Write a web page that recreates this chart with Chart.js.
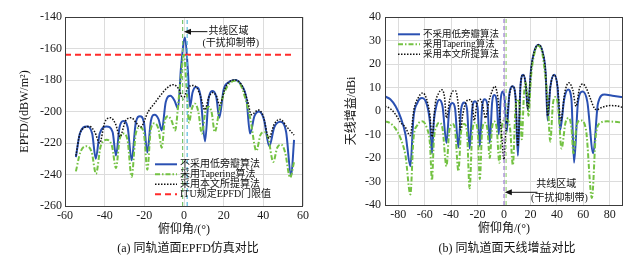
<!DOCTYPE html>
<html><head><meta charset="utf-8">
<script src="https://cdn.jsdelivr.net/npm/chart.js@4.4.1/dist/chart.umd.min.js"></script>
<style>
html,body{margin:0;padding:0;background:#fff;}
#wrap{position:relative;width:642px;height:261px;overflow:hidden;background:#fff;}
canvas{position:absolute;top:0;}
.cap{position:absolute;top:241px;line-height:14px;font-size:12px;font-family:"Liberation Serif","Noto Sans CJK SC",serif;color:#111;white-space:nowrap;transform:translateX(-50%);}
</style></head><body>
<div id="wrap">
<canvas id="c1" width="320" height="261" style="left:0;width:320px;height:261px"></canvas>
<canvas id="c2" width="322" height="261" style="left:320px;width:322px;height:261px"></canvas>
<div class="cap" style="left:188px">(a) 同轨道面EPFD仿真对比</div>
<div class="cap" style="left:507px">(b) 同轨道面天线增益对比</div>
</div>
<script>
const FONT = '"Liberation Serif", "Noto Sans CJK SC", serif';

const seriesNames = ['不采用低旁瓣算法', '采用Tapering算法', '采用本文所提算法', 'ITU规定EPFD门限值'];
const annoLines = ['共线区域', '(干扰抑制带)'];

// ---------- (a) EPFD ----------
const epfdXTicks = [-60, -40, -20, 0, 20, 40, 60];
const epfdYTicks = [-260, -240, -220, -200, -180, -160, -140];

const epfdBlueX = [-54.5,-52.5,-49,-46.3,-44.5,-42.5,-39,-36,-34.3,-32.5,-30.6,-28.4,-26.4,-24.3,-22.2,-20.2,-18.5,-16.7,-14.8,-12.8,-11.2,-9.2,-6.8,-4.8,-3,-1.5,0.5,2,3,4.3,6,8.3,10.6,12.5,14.5,16.3,17.8,20,22.5,25.7,28.8,31.5,33.3,35.5,37.8,40.3,43,45.5,48.5,51.5,54,55.5];
const epfdBlueY = [-229,-214,-209.5,-214,-230,-214,-209.5,-213,-228,-210,-206,-210,-231,-207,-203,-207,-226,-206,-202,-205,-212,-194,-190,-193,-198,-172,-153,-175,-197,-188,-184.5,-190,-219,-191,-187,-191,-204,-186,-181.5,-180,-183,-192,-214,-203,-200,-205,-222,-210,-206.5,-213,-241,-218];

const epfdGreenX = [-54.5,-52.3,-49,-46.5,-44.4,-42,-39,-36.3,-34.3,-32.5,-30.6,-28.5,-26.4,-24.3,-22.2,-20.2,-18.5,-16.7,-14.8,-12.9,-11.2,-9.7,-8,-6.2,-4.5,-2.5,0,1.3,2.5,4,5.5,7.2,9,10.8,12.5,14,15.5,18,21,25.7,28.5,31,33.5,36.5,38.5,40.5,42.5,45,47,49,51,53.5,55.5];
const epfdGreenY = [-238,-226,-222,-226,-239.5,-222,-218,-222,-236,-218,-214,-218,-241.5,-214,-210,-214,-237,-211,-207.5,-211,-223,-206,-203,-206,-212,-190,-164,-185,-207,-198,-195,-200,-214,-200,-197,-201,-213,-198,-186,-180.5,-183,-192,-205,-225,-215,-213,-217,-232,-223,-221,-226,-242,-232];

const epfdBlackX = [-54.5,-52.5,-50.5,-47.5,-45,-42.5,-40,-37,-34.5,-32.3,-29.5,-26.5,-24.2,-22,-18,-15,-12,-8.5,-5.5,-2.5,-0.5,2,4.5,6.5,8.5,10.5,12.5,14.5,16.3,18,20.5,22.5,25.7,29,32,34,37.5,40,42.8,45.5,48.5,52,55.5];
const epfdBlackY = [-228,-214,-210.5,-209.5,-213,-220,-207,-204,-208,-216,-206,-204,-207,-210,-200,-195,-190,-185,-183,-186,-192,-185,-183.5,-185,-191,-199,-191,-188,-190,-196,-186,-181.5,-180,-183,-193,-202,-199,-203,-217,-208,-205,-210,-215];

const ituLimitX = [-60, 55];
const ituLimitY = [-164, -164];
const epfdBandX = [-0.7, 1.6];

// ---------- (b) Gain ----------
const gainXTicks = [-80, -60, -40, -20, 0, 20, 40, 60, 80];
const gainYTicks = [-40, -30, -20, -10, 0, 10, 20, 30, 40];

const gainBlueX = [-90,-86,-82,-78,-74.5,-70.8,-68.5,-65.5,-62,-58.5,-56,-54.5,-53,-51,-49,-46.5,-43.5,-41.5,-39,-37,-34.5,-32.5,-30,-28,-26,-24,-22,-20,-18.3,-16.5,-14.5,-12.5,-10.8,-9,-7.3,-5.5,-4,-2.5,-1,0.5,2,4,6.5,8.7,10.5,12.5,14.5,16.5,18,20.5,23,26,29,31.5,33,35,38,40.5,42.5,45.5,48.5,51,53,56,59.5,63,67.5,71,76,82,90];
const gainBlueY = [6.2,5,2,-3,-10,-23.5,-3,3.5,5.5,3,-5,-18,-4,2.5,4.8,2,-13.6,0,3.4,1,-15.5,0.5,3.6,1,-16,1,4.2,1.5,-15,2,5,2.5,-13.6,3.5,6.8,4,-10,5,8.3,5,-9,7,10.5,6,-19,11,15.4,11,0.5,18,25.5,28.2,25.5,16,-4,10,15.4,10,-8,5,9.2,5,-22,4,8.3,4,-18,3,7,6.5,5.8];

const gainGreenX = [-90,-86,-82,-78,-74.5,-70.8,-68.5,-65.5,-62,-58.5,-56,-54.5,-53,-51,-49,-46.5,-43.5,-41.5,-39,-37,-34.5,-32.5,-30,-28,-26,-24,-22,-20,-18.3,-16.5,-14.5,-12.5,-10.8,-9,-7.3,-5.5,-3.5,-1.5,1.5,4.5,6.7,8.7,10.5,12,13.5,15,16.3,17.5,18.5,20.5,23,26,29,31,33,35,37,39,41,43.5,46.5,49,51,52.5,55,58,62,66.5,69.5,73,78,84,90];
const gainGreenY = [-4.4,-5.2,-7.5,-12,-19,-35.5,-12,-6,-4.4,-7,-14,-29.5,-12,-6.5,-5,-7.5,-23.5,-9,-5.5,-8,-25.5,-9,-5.5,-9,-33,-9,-5,-8,-29,-8,-5,-8,-20,-7,-4.5,-7.5,-22,-6,-3.5,-7,-23,1,5,1,-12,6,12,7,-2,15,24.5,27.8,24.5,16,5,-13,3,6,2,-16,-5,-3,-7,-18,-6,-4,-8,-37,-10,-5,-4.4,-4.6,-5];

const gainBlackX = [-90,-86,-82,-78,-74.5,-71,-68,-65,-61.5,-58.5,-56,-54.5,-52,-49.5,-47,-45,-43.5,-41,-38.5,-36.5,-34.5,-33,-31,-28.5,-26,-24,-22.5,-20.5,-18,-16,-14,-11.5,-9,-7,-5,-3,-1.5,0,1,2.5,4.5,6.5,8.7,10.5,12.5,14.5,16.5,18,20.5,23,26,29,31.5,33,35,38,40.5,43,46,49,52,54.5,57,59.5,62,65.5,68.5,70,74,80,85,90];
const gainBlackY = [2,1,-1.5,-5,-7,-10.5,1,5.5,7.7,5,-2,-11,3,7.5,9,6,-3,5,8.5,8.5,2,-8,-1,4,4.8,3,-4,3,5,2,-3,4,8.5,10.5,7,-3,-12,-20.7,-12,-2,8,10.5,6,-15,11,15.4,11,1,18,25.5,28.2,25.5,16,-2,10,15.4,10.5,-4,8,12,9,2,9.5,11.5,10,5,1,0.5,1.5,2.3,2.2,1.5];

const gainBandX = [0, 1.6];

const pts = (xs, ys) => xs.map((x, i) => ({x: x, y: ys[i]}));

const decor = {
  id: 'decor',
  afterDatasetsDraw(chart, args, opts) {
    const {ctx, chartArea: a, scales: {x, y}} = chart;
    ctx.save();
    // legend
    const L = opts.legend;
    ctx.font = L.size + 'px ' + FONT;
    ctx.textBaseline = 'middle';
    ctx.textAlign = 'left';
    L.items.forEach((di, k) => {
      const ds = chart.data.datasets[di];
      const yy = a.top + L.y + k * L.dy;
      const x0 = a.left + L.x;
      ctx.beginPath();
      ctx.setLineDash(ds.borderDash || []);
      ctx.lineWidth = ds.borderWidth;
      ctx.strokeStyle = ds.borderColor;
      ctx.moveTo(x0, yy); ctx.lineTo(x0 + L.len, yy); ctx.stroke();
      ctx.setLineDash([]);
      ctx.fillStyle = '#111';
      ctx.fillText(ds.label, x0 + L.len + 3, yy);
    });
    // annotation
    const A = opts.anno;
    const tx = x.getPixelForValue(A.tip[0]), ty = y.getPixelForValue(A.tip[1]);
    const sx = x.getPixelForValue(A.tail);
    ctx.strokeStyle = '#111'; ctx.fillStyle = '#111'; ctx.lineWidth = 1;
    ctx.beginPath(); ctx.moveTo(sx, ty); ctx.lineTo(tx + 5, ty); ctx.stroke();
    ctx.beginPath(); ctx.moveTo(tx, ty); ctx.lineTo(tx + 7, ty - 3); ctx.lineTo(tx + 7, ty + 3); ctx.closePath(); ctx.fill();
    ctx.font = A.size + 'px ' + FONT;
    ctx.textAlign = 'center';
    annoLines.forEach((t, i) => {
      ctx.fillText(t, x.getPixelForValue(A.text[i][0]), y.getPixelForValue(A.text[i][1]));
    });
    // box
    ctx.strokeStyle = '#3c3c3c'; ctx.lineWidth = 1;
    ctx.strokeRect(a.left + 0.5, a.top + 0.5, a.width - 1, a.height);
    ctx.restore();
  }
};

function lineDs(label, data, color, width, dash, order) {
  return {label: label, data: data, borderColor: color, borderWidth: width, borderDash: dash,
    pointRadius: 0, fill: false, cubicInterpolationMode: 'monotone', order: order};
}
function bandDs(xv, ymin, ymax, color) {
  return {label: '', data: [{x: xv, y: ymin}, {x: xv, y: ymax}], borderColor: color, borderWidth: 1.2,
    borderDash: [4, 3], pointRadius: 0, fill: false, order: 0};
}

function makeChart(id, c) {
  return new Chart(document.getElementById(id), {
    type: 'line',
    data: {datasets: c.datasets},
    options: {
      responsive: false, animation: false, devicePixelRatio: 1,
      layout: {padding: c.padding},
      plugins: {legend: {display: false}, tooltip: {enabled: false}, decor: c.decor},
      scales: {
        x: {
          type: 'linear', min: c.xMin, max: c.xMax,
          afterBuildTicks: s => { s.ticks = c.xTicks.map(v => ({value: v})); },
          afterFit: s => { s.height = 32; },
          ticks: {font: {family: FONT, size: 12}, color: '#1a1a1a', padding: 3, maxRotation: 0, autoSkip: false},
          grid: {color: '#dcdcdc', drawTicks: false, lineWidth: 1},
          border: {display: false},
          title: {display: true, text: '俯仰角/(°)', font: {family: FONT, size: 12}, color: '#111', padding: {top: 0, bottom: 1}}
        },
        y: {
          type: 'linear', min: c.yMin, max: c.yMax,
          afterBuildTicks: s => { s.ticks = c.yTicks.map(v => ({value: v})); },
          afterFit: s => { s.width = 65; },
          ticks: {font: {family: FONT, size: 12}, color: '#1a1a1a', padding: c.yPad, autoSkip: false},
          grid: {color: '#dcdcdc', drawTicks: false, lineWidth: 1},
          border: {display: false},
          title: {display: true, text: c.yTitle, font: {family: FONT, size: 12}, color: '#111', padding: {top: c.yTitlePad, bottom: 0}}
        }
      }
    },
    plugins: [decor]
  });
}

makeChart('c1', {
  xMin: -60, xMax: 60, yMin: -260, yMax: -140,
  xTicks: epfdXTicks, yTicks: epfdYTicks,
  yTitle: 'EPFD/(dBW/m²)', yTitlePad: 18, yPad: 3,
  padding: {left: 0, right: 17, top: 17, bottom: 23},
  datasets: [
    lineDs(seriesNames[0], pts(epfdBlueX, epfdBlueY), '#2a50b2', 2, [], 4),
    lineDs(seriesNames[1], pts(epfdGreenX, epfdGreenY), '#74c243', 2, [5, 2, 1.5, 2], 3),
    lineDs(seriesNames[2], pts(epfdBlackX, epfdBlackY), '#111111', 1.5, [1.5, 1.5], 2),
    lineDs(seriesNames[3], pts(ituLimitX, ituLimitY), '#ff2b2b', 2, [6, 4], 1),
    bandDs(epfdBandX[0], -260, -140, '#79c36a'),
    bandDs(epfdBandX[1], -260, -140, '#58b8da')
  ],
  decor: {
    legend: {x: 90, y: 147.3, dy: 10, len: 22, size: 10, items: [0, 1, 2, 3]},
    anno: {tip: [0, -149.3], tail: 11.8, size: 10, text: [[22.4, -149.3], [23.6, -156.8]]}
  }
});

makeChart('c2', {
  xMin: -90, xMax: 90, yMin: -40, yMax: 40,
  xTicks: gainXTicks, yTicks: gainYTicks,
  yTitle: '天线增益/dBi', yTitlePad: 25, yPad: 4,
  padding: {left: 0, right: 19, top: 17, bottom: 24},
  datasets: [
    lineDs(seriesNames[0], pts(gainBlueX, gainBlueY), '#2a50b2', 2, [], 4),
    lineDs(seriesNames[1], pts(gainGreenX, gainGreenY), '#74c243', 2, [5, 2, 1.5, 2], 3),
    lineDs(seriesNames[2], pts(gainBlackX, gainBlackY), '#111111', 1.5, [1.5, 1.5], 2),
    bandDs(gainBandX[0], -40, 40, '#a07fd4'),
    bandDs(gainBandX[1], -40, 40, '#9bd47a')
  ],
  decor: {
    legend: {x: 13, y: 17.3, dy: 10, len: 22, size: 9.5, items: [0, 1, 2]},
    anno: {tip: [0.6, -34.6], tail: 25.3, size: 10, text: [[39.6, -31.4], [41.9, -37.1]]}
  }
});
</script>
</body></html>
